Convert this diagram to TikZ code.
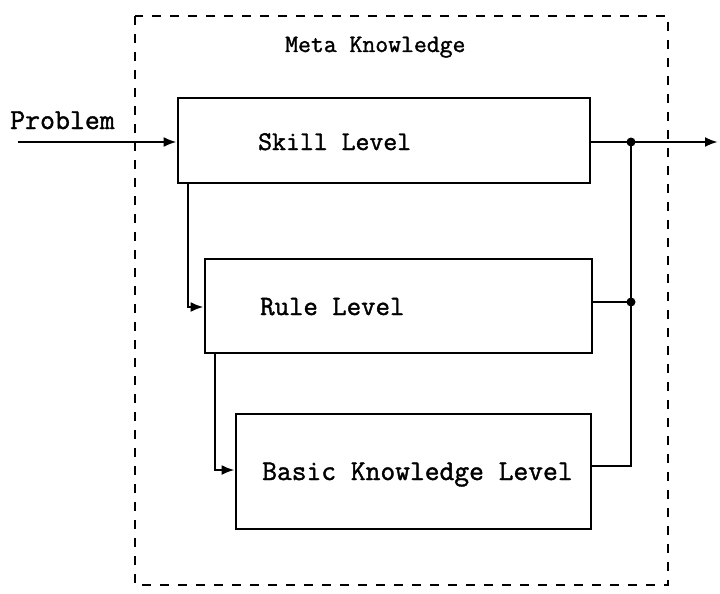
\documentclass[tikz,border=0pt]{standalone}
\usepackage{fontspec}
\newfontfamily\tw[FakeBold=1.4]{Latin Modern Mono}
\usetikzlibrary{arrows.meta}
\tikzset{
  blk/.style={draw, line width=2.6pt, inner sep=0pt},
  lbl/.style={font=\tw, inner sep=0pt, anchor=base west},
  conn/.style={line width=2.6pt, -{Latex[length=13pt,width=10pt]}},
  wire/.style={line width=2.6pt},
  dot/.style={circle, fill=black, inner sep=0pt, minimum size=9pt},
  meta/.style={draw, line width=2.4pt, dash pattern=on 9pt off 9pt}
}
\begin{document}
\begin{tikzpicture}[x=1pt,y=-1pt]
\useasboundingbox (0,0) rectangle (720,594);
% meta knowledge frame
\draw[meta] (135,16) rectangle (668,585);
\node[lbl] (meta) at (285,52) {\fontsize{25}{27}\selectfont Meta Knowledge};
% blocks
\node[blk, minimum width=412pt, minimum height=85pt] (skill) at (384,140.5) {};
\node[blk, minimum width=387pt, minimum height=94pt] (rule) at (398.5,306) {};
\node[blk, minimum width=355pt, minimum height=115pt] (basic) at (413.5,471.5) {};
\node[lbl] (tskill) at (258,150) {\fontsize{27}{29}\selectfont Skill Level};
\node[lbl] (trule) at (260,315) {\fontsize{28}{30}\selectfont Rule Level};
\node[lbl] (tbasic) at (262,480) {\fontsize{28.7}{30}\selectfont Basic Knowledge Level};
% input
\coordinate (pin) at (18,142);
\node[lbl] (tprob) at (10,129) {\fontsize{29}{31}\selectfont Problem};
\draw[conn] (pin) -- (skill.west |- pin);
% downward transfers
\coordinate (s1) at (188,183);
\draw[conn] (skill.south -| s1) |- (rule.west |- 0,307);
\coordinate (r1) at (215,353);
\draw[conn] (rule.south -| r1) |- (basic.west |- 0,470);
% output
\coordinate (out) at (718,142);
\node[dot] (d1) at (631,142) {};
\node[dot] (d2) at (631,302) {};
\draw[conn] (skill.east |- out) -- (out);
\draw[wire] (rule.east |- d2) -- (d2.center);
\draw[wire] (basic.east |- 0,466) -| (d1.center);
\end{tikzpicture}
\end{document}
